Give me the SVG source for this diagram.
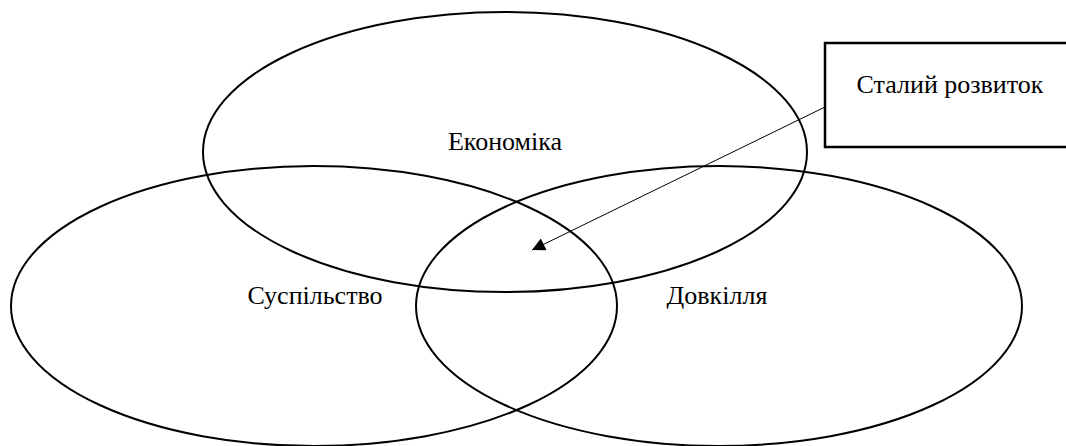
<svg xmlns="http://www.w3.org/2000/svg" width="1066" height="446" viewBox="0 0 1066 446">
  <style>
    .ell { fill: none; stroke: #000; stroke-width: 2; }
    .box { fill: #fff; stroke: #000; stroke-width: 2.5; }
    .lbl { font-family: "Liberation Serif", "Times New Roman", serif; font-size: 26px; fill: #000; text-anchor: middle; }
    .conn { stroke: #000; stroke-width: 1; fill: none; }
  </style>
  <defs>
    <marker id="arrow" viewBox="0 0 10 10" refX="10" refY="5" markerWidth="17" markerHeight="13" markerUnits="userSpaceOnUse" orient="auto">
      <path d="M0,0 L10,5 L0,10 Z" fill="#000"/>
    </marker>
  </defs>
  <rect width="1066" height="446" fill="#fff"/>
  <g id="economy">
    <ellipse class="ell" cx="505" cy="152" rx="302" ry="140"/>
    <text class="lbl" x="505" y="150">Економіка</text>
  </g>
  <g id="society">
    <ellipse class="ell" cx="314" cy="306" rx="303" ry="140"/>
    <text class="lbl" x="315" y="304">Суспільство</text>
  </g>
  <g id="environment">
    <ellipse class="ell" cx="719" cy="306" rx="303" ry="140"/>
    <text class="lbl" x="717" y="304">Довкілля</text>
  </g>
  <g id="sustainable">
    <rect class="box" x="825" y="43" width="250" height="104"/>
    <text class="lbl" x="950" y="93">Сталий розвиток</text>
  </g>
  <g id="connectors">
    <line class="conn" x1="825" y1="107" x2="532" y2="250" marker-end="url(#arrow)"/>
  </g>
</svg>
